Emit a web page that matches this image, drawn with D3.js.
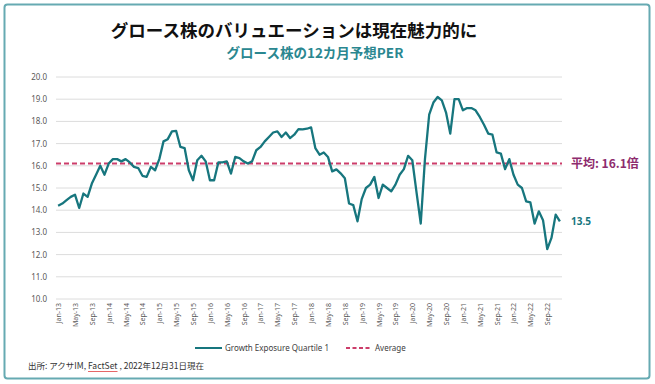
<!DOCTYPE html>
<html>
<head>
<meta charset="utf-8">
<script src="https://cdn.jsdelivr.net/npm/d3@7"></script>
<style>
  body { margin: 0; background: #ffffff; }
  svg { display: block; }
</style>
</head>
<body>
<svg id="chart" width="655" height="384"></svg>
<script>
// ----------- DATA ------------
// monthly 12m forward PER, Jan-13 .. Dec-22
const per = [
    14.2, 14.3, 14.45, 14.6, 14.7, 14.1, 14.75, 14.6, 15.2, 15.6, 16.0, 15.6,
    16.1, 16.3, 16.3, 16.2, 16.3, 16.15, 15.95, 15.9, 15.55, 15.5, 15.95, 15.8,
    16.3, 17.1, 17.2, 17.55, 17.57, 16.85, 16.8, 15.8, 15.35, 16.25, 16.45, 16.2,
    15.35, 15.35, 16.15, 16.15, 16.2, 15.65, 16.4, 16.35, 16.2, 16.1, 16.2, 16.7,
    16.85, 17.1, 17.3, 17.5, 17.55, 17.3, 17.5, 17.25, 17.4, 17.65, 17.64, 17.67,
    17.73, 16.8, 16.5, 16.6, 16.4, 15.75, 15.84, 15.66, 15.44, 14.3, 14.23, 13.5,
    14.5, 15.0, 15.15, 15.5, 14.55, 15.15, 15.0, 14.85, 15.15, 15.6, 15.85, 16.45,
    16.25, 14.8, 13.4, 16.3, 18.3, 18.85, 19.1, 18.95, 18.4, 17.45, 19.0, 19.0,
    18.5, 18.6, 18.6, 18.5, 18.2, 17.85, 17.45, 17.4, 16.6, 16.55, 15.85, 16.3,
    15.6, 15.15, 15.0, 14.4, 14.35, 13.4, 13.95, 13.55, 12.25, 12.75, 13.8, 13.5
];
const average = 16.1;
const lastValue = 13.5;

// every 4th month is labelled
const tickLabels = [
    "Jan-13", "May-13", "Sep-13", "Jan-14", "May-14", "Sep-14", "Jan-15", "May-15", "Sep-15",
    "Jan-16", "May-16", "Sep-16", "Jan-17", "May-17", "Sep-17", "Jan-18", "May-18", "Sep-18",
    "Jan-19", "May-19", "Sep-19", "Jan-20", "May-20", "Sep-20", "Jan-21", "May-21", "Sep-21",
    "Jan-22", "May-22", "Sep-22"
];
const yTicks = [10, 11, 12, 13, 14, 15, 16, 17, 18, 19, 20];

const TEAL = "#17767e";
const AVG_COLOR = "#cc3d6a";
const JP_FONT = "'Noto Sans CJK JP', sans-serif";
const NUM_FONT = "'Noto Sans', 'DejaVu Sans', sans-serif";

// ----------- SETUP ------------
const svg = d3.select("#chart");

// outer frame
svg.append("rect")
    .attr("x", 4.5).attr("y", 4.5)
    .attr("width", 645).attr("height", 374)
    .attr("rx", 3)
    .attr("fill", "#ffffff")
    .attr("stroke", "#66aab2")
    .attr("stroke-width", 2);

// title + subtitle
svg.append("text")
    .attr("x", 294).attr("y", 37)
    .attr("text-anchor", "middle")
    .style("font-family", JP_FONT)
    .style("font-size", "17.5px")
    .style("font-weight", "bold")
    .attr("fill", "#111111")
    .text("グロース株のバリュエーションは現在魅力的に");

svg.append("text")
    .attr("x", 315).attr("y", 58)
    .attr("text-anchor", "middle")
    .style("font-family", JP_FONT)
    .style("font-size", "13.5px")
    .style("font-weight", "bold")
    .attr("fill", "#2a8790")
    .text("グロース株の12カ月予想PER");

// ----------- SCALES ------------
const x = d3.scalePoint()
    .domain(d3.range(per.length))
    .range([56, 562])
    .padding(0.5);

const y = d3.scaleLinear()
    .domain([10, 20])
    .range([299, 77]);

// ----------- GRID + AXES ------------
svg.append("g")
    .selectAll("line")
    .data(yTicks)
    .join("line")
    .attr("x1", 56).attr("x2", 562)
    .attr("y1", d => y(d)).attr("y2", d => y(d))
    .attr("stroke", "#dcdcdc")
    .attr("stroke-width", 1);

const yAxis = svg.append("g")
    .attr("transform", "translate(56,0)")
    .call(d3.axisLeft(y).tickValues(yTicks).tickFormat(d3.format(".1f")).tickSize(0).tickPadding(9));
yAxis.select(".domain").remove();
yAxis.selectAll("text")
    .style("font-family", NUM_FONT)
    .style("font-size", "8px")
    .attr("fill", "#595959");

const xAxis = svg.append("g")
    .attr("transform", `translate(0,${y(10)})`)
    .call(d3.axisBottom(x)
        .tickValues(d3.range(0, per.length, 4))
        .tickFormat(i => tickLabels[i / 4])
        .tickSize(0));
xAxis.select(".domain").remove();
xAxis.selectAll("text")
    .attr("transform", "rotate(-90)")
    .attr("x", -4)
    .attr("y", 0)
    .attr("dy", "0.35em")
    .style("text-anchor", "end")
    .style("font-family", NUM_FONT)
    .style("font-size", "7px")
    .attr("fill", "#595959");

// ----------- LINES ------------
svg.append("line")
    .attr("x1", 56).attr("x2", 562)
    .attr("y1", y(average)).attr("y2", y(average))
    .attr("stroke", AVG_COLOR)
    .attr("stroke-width", 2)
    .attr("stroke-dasharray", "5,3");

svg.append("path")
    .datum(per)
    .attr("fill", "none")
    .attr("stroke", TEAL)
    .attr("stroke-width", 2.3)
    .attr("stroke-linejoin", "round")
    .attr("d", d3.line().x((d, i) => x(i)).y(d => y(d)));

// ----------- LABELS ------------
svg.append("text")
    .attr("x", 571).attr("y", y(average) + 4.5)
    .style("font-family", JP_FONT)
    .style("font-size", "12px")
    .style("font-weight", "bold")
    .attr("fill", "#8e2c6e")
    .text("平均: " + average.toFixed(1) + "倍");

svg.append("text")
    .attr("x", 571).attr("y", y(lastValue) + 3.5)
    .style("font-family", NUM_FONT)
    .style("font-size", "10px")
    .style("font-weight", "bold")
    .attr("fill", TEAL)
    .text(lastValue.toFixed(1));

// ----------- LEGEND ------------
const legend = svg.append("g").attr("transform", "translate(0,348)");
legend.append("line")
    .attr("x1", 195).attr("x2", 222)
    .attr("stroke", TEAL).attr("stroke-width", 2);
legend.append("text")
    .attr("x", 225).attr("y", 2.8)
    .style("font-family", NUM_FONT)
    .style("font-size", "8px")
    .attr("fill", "#404040")
    .text("Growth Exposure Quartile 1");
legend.append("line")
    .attr("x1", 346).attr("x2", 372)
    .attr("stroke", AVG_COLOR).attr("stroke-width", 2)
    .attr("stroke-dasharray", "4,2.5");
legend.append("text")
    .attr("x", 375).attr("y", 2.8)
    .style("font-family", NUM_FONT)
    .style("font-size", "8px")
    .attr("fill", "#404040")
    .text("Average");

// ----------- FOOTER ------------
const footerText = "出所: アクサIM, FactSet , 2022年12月31日現在";
const footer = svg.append("text")
    .attr("x", 28).attr("y", 369)
    .style("font-family", JP_FONT)
    .style("font-size", "8.5px")
    .attr("fill", "#333333")
    .text(footerText);

// spell-check squiggle under FactSet, as in the source picture
const fsStart = footerText.indexOf("FactSet");
const node = footer.node();
const fsX = 28 + node.getSubStringLength(0, fsStart);
const fsW = node.getSubStringLength(fsStart, 7);
svg.append("line")
    .attr("x1", fsX).attr("x2", fsX + fsW)
    .attr("y1", 371.5).attr("y2", 371.5)
    .attr("stroke", "#e04040")
    .attr("stroke-width", 0.8);
</script>
</body>
</html>
